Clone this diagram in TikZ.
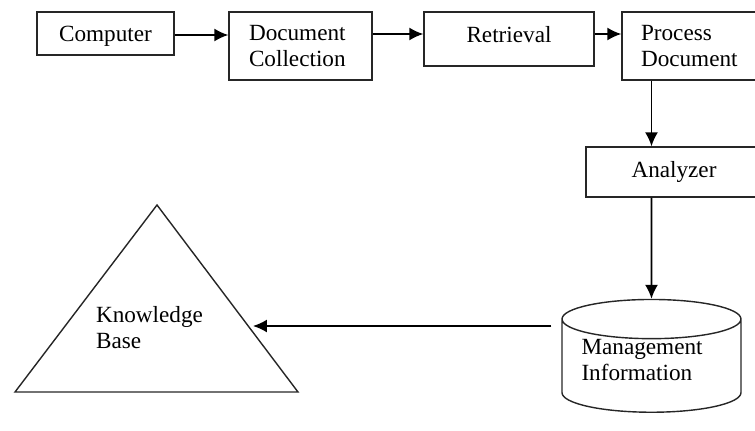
\documentclass[tikz,border=0pt]{standalone}
\usepackage{fontspec}
\setmainfont{Liberation Serif}
\usepackage{tikz}
\usetikzlibrary{arrows.meta}
\usetikzlibrary{shapes.geometric}

\begin{document}
\begin{tikzpicture}[x=0.02cm,y=-0.02cm,
    font=\fontsize{13.2}{14.8}\selectfont,
    box/.style={draw=black!85,line width=0.8pt,rectangle,inner sep=0pt},
    arr/.style={-{Latex[length=2.8mm,width=2.6mm]},line width=0.9pt}]
      \useasboundingbox (0,0) rectangle (755,430);
      \clip (0,0) rectangle (755,430);
      % top row
      \node [box,minimum width=2.74cm,minimum height=0.86cm] (comp) at (105.5,33.5) {\raisebox{0pt}[\dimexpr\height+0.1cm\relax]{Computer}};
      \node [box,minimum width=2.86cm,minimum height=1.36cm,text width=2.06cm,align=left] (doccol) at (300.5,46) {Document\\Collection};
      \node [box,minimum width=3.4cm,minimum height=1.08cm] (retr) at (509,39) {\raisebox{0.2cm}{Retrieval}};
      \node [box,minimum width=2.72cm,minimum height=1.36cm,text width=1.96cm,align=left] (proc) at (690,46) {Process\\Document};
      % right column
      \node [box,minimum width=3.52cm,minimum height=1cm] (anal) at (674,172) {Analyzer};
      \node [draw=black!85,line width=0.8pt,cylinder,shape border rotate=90,aspect=0.28,
             minimum width=3.58cm,minimum height=2.24cm,inner sep=0pt,
             text width=2.8cm,align=left] (mgmt) at (651.5,366) {Management\\Information\\[-0.6em]\mbox{}};
      % knowledge base
      \coordinate (kbtop) at (157,205);
      \coordinate (kbright) at (298,392);
      \coordinate (kbleft) at (15,392);
      \draw [draw=black!85,line width=0.8pt] (kbtop) -- (kbright) -- (kbleft) -- cycle;
      \node [align=left] (kb) at (149.5,328) {Knowledge\\Base};
      \coordinate (kbin) at (253,326);
      % arrows
      \draw [arr] (comp.east |- 0,35) -- (doccol.west |- 0,35);
      \draw [arr] (doccol.east |- 0,34) -- (retr.west |- 0,34);
      \draw [arr] (retr.east |- 0,34) -- (proc.west |- 0,34);
      \draw [arr] (proc.south -| mgmt) -- (anal.north -| mgmt);
      \draw [arr] (anal.south -| mgmt) -- (mgmt.north);
      \draw [arr] ([xshift=-0.2cm]kbin -| mgmt.west) -- (kbin);
\end{tikzpicture}
\end{document}
